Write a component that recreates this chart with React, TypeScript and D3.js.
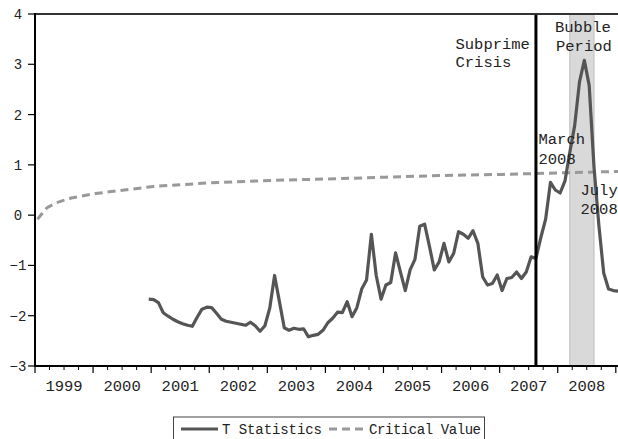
import React from "react";
import * as d3 from "d3";

const W = 618;
const H = 439;

// T statistics, monthly from 2000-12 to 2009-01
const tStartYear = 2000;
const tStartMonth = 12;
const tValues = [
  -1.67, -1.68, -1.74, -1.94, -2.01, -2.07, -2.12, -2.16, -2.19, -2.21,
  -2.03, -1.87, -1.83, -1.84, -1.95, -2.07, -2.11, -2.13, -2.15, -2.17,
  -2.19, -2.13, -2.2, -2.31, -2.2, -1.85, -1.2, -1.72, -2.24, -2.29,
  -2.25, -2.27, -2.26, -2.42, -2.39, -2.37, -2.29, -2.14, -2.05, -1.93,
  -1.94, -1.72, -2.02, -1.84, -1.47, -1.29, -0.38, -1.2, -1.67, -1.39,
  -1.34, -0.75, -1.13, -1.5, -1.09, -0.88, -0.22, -0.18, -0.62, -1.09,
  -0.93, -0.56, -0.93, -0.76, -0.33, -0.38, -0.46, -0.31, -0.56, -1.23,
  -1.39, -1.36, -1.19, -1.5, -1.26, -1.24, -1.13, -1.26, -1.13, -0.83,
  -0.86, -0.45, -0.08, 0.65, 0.5, 0.44, 0.68, 1.25, 1.78, 2.65,
  3.08, 2.58, 0.95, -0.2, -1.15, -1.47, -1.5, -1.51,
];

// Critical value, read at selected months
const critMonths = [
  "1999-01", "1999-03", "1999-05", "1999-08", "2000-01", "2000-07", "2001-01",
  "2002-01", "2003-01", "2004-01", "2005-01", "2006-01", "2007-01", "2008-01", "2009-01",
];
const critValues = [
  -0.08, 0.15, 0.25, 0.34, 0.43, 0.5, 0.57, 0.645, 0.69, 0.72, 0.755, 0.79, 0.81, 0.84, 0.87,
];

const yTicks = [4, 3, 2, 1, 0, -1, -2, -3];
const yearLabels = [1999, 2000, 2001, 2002, 2003, 2004, 2005, 2006, 2007, 2008];

const crisisMonth = "2007-08";
const bubbleStart = 2008.208;
const bubbleEnd = 2008.625;

const seriesNames = ["T Statistics", "Critical Value"];

const FONT = "'Liberation Mono', 'DejaVu Sans Mono', monospace";

function monthToDecimal(s: string) {
  const [yy, mm] = s.split("-").map(Number);
  return yy + (mm - 1 + 0.5) / 12;
}

export default function App() {
  const x = d3.scaleLinear().domain([1999, 2009]).range([35, 615.8]);
  const y = d3.scaleLinear().domain([-3, 4]).range([366, 14]);

  const tData = tValues.map((v, i) => {
    const m = tStartMonth - 1 + i;
    return { t: tStartYear + (m + 0.5) / 12, v };
  });
  const critData = critMonths.map((s, i) => ({ t: monthToDecimal(s), v: critValues[i] }));

  const line = d3
    .line<{ t: number; v: number }>()
    .x((d) => x(d.t))
    .y((d) => y(d.v));

  const majorTicks = d3.range(1999, 2010);
  const minorTicks: number[] = [];
  yearLabels.forEach((yr) => [0.25, 0.5, 0.75].forEach((q) => minorTicks.push(yr + q)));

  const crisisX = x(monthToDecimal(crisisMonth));
  const top = y(4);
  const bottom = y(-3);

  return (
    <div style={{ position: "absolute", left: 0, top: 0 }}>
      <svg width={W} height={H} style={{ display: "block", background: "#fff" }}>
        <defs>
          <clipPath id="plot">
            <rect x={35} y={top - 2} width={W - 35} height={bottom - top + 4} />
          </clipPath>
        </defs>
        {/* bubble band */}
        <rect
          x={x(bubbleStart)}
          y={top}
          width={x(bubbleEnd) - x(bubbleStart)}
          height={bottom - top}
          fill="#d9d9d9"
          stroke="#bdbdbd"
          strokeWidth={1}
        />
        <g clipPath="url(#plot)">
          <path
            d={line(critData) || ""}
            fill="none"
            stroke="#999999"
            strokeWidth={3}
            strokeDasharray="8,5"
          />
          <path
            d={line(tData) || ""}
            fill="none"
            stroke="#555555"
            strokeWidth={3.2}
            strokeLinejoin="round"
          />
        </g>
        {/* crisis line */}
        <line x1={crisisX} x2={crisisX} y1={top} y2={bottom} stroke="#000" strokeWidth={3} />
        {/* frame */}
        <line x1={35} x2={W} y1={top} y2={top} stroke="#333" strokeWidth={2} />
        <line x1={35} x2={35} y1={top - 1} y2={bottom + 1} stroke="#000" strokeWidth={2} />
        <line x1={34} x2={W} y1={bottom} y2={bottom} stroke="#000" strokeWidth={2} />
        {/* y ticks */}
        {yTicks.map((v) => (
          <g key={v}>
            <line x1={28} x2={35} y1={y(v)} y2={y(v)} stroke="#000" strokeWidth={1.2} />
            <text
              x={18}
              y={y(v) + 5}
              textAnchor="middle"
              fontFamily={FONT}
              fontSize={14}
              fill="#222"
            >
              {v < 0 ? "\u2212" + Math.abs(v) : String(v)}
            </text>
          </g>
        ))}
        {/* x ticks */}
        {majorTicks.map((t) => (
          <line key={"M" + t} x1={x(t)} x2={x(t)} y1={bottom} y2={bottom + 7} stroke="#000" strokeWidth={1.2} />
        ))}
        {minorTicks.map((t) => (
          <line key={"m" + t} x1={x(t)} x2={x(t)} y1={bottom} y2={bottom + 4} stroke="#000" strokeWidth={1} />
        ))}
        {yearLabels.map((yr) => (
          <text
            key={yr}
            x={x(yr + 0.5)}
            y={391}
            textAnchor="middle"
            fontFamily={FONT}
            fontSize={15.5}
            fill="#222"
          >
            {yr}
          </text>
        ))}
        {/* annotations */}
        <g fontFamily={FONT} fontSize={15.5} fill="#222">
          <text x={455.5} y={48.5}>Subprime</text>
          <text x={455.5} y={67}>Crisis</text>
          <text x={555} y={32}>Bubble</text>
          <text x={556} y={51}>Period</text>
          <text x={538.5} y={143.5}>March</text>
          <text x={538.5} y={163.5}>2008</text>
          <text x={580.5} y={195}>July</text>
          <text x={580.5} y={214}>2008</text>
        </g>
        {/* legend */}
        <rect x={173.5} y={417} width={311} height={30} fill="#fff" stroke="#444" strokeWidth={1} />
        <line x1={181} x2={218} y1={429} y2={429} stroke="#555555" strokeWidth={3.2} />
        <text x={222} y={434} fontFamily={FONT} fontSize={14} fill="#222" textLength={100}>
          {seriesNames[0]}
        </text>
        <line x1={329} x2={364} y1={429} y2={429} stroke="#999999" strokeWidth={3} strokeDasharray="8,5" />
        <text x={369} y={434} fontFamily={FONT} fontSize={14} fill="#222" textLength={112}>
          {seriesNames[1]}
        </text>
      </svg>
    </div>
  );
}
